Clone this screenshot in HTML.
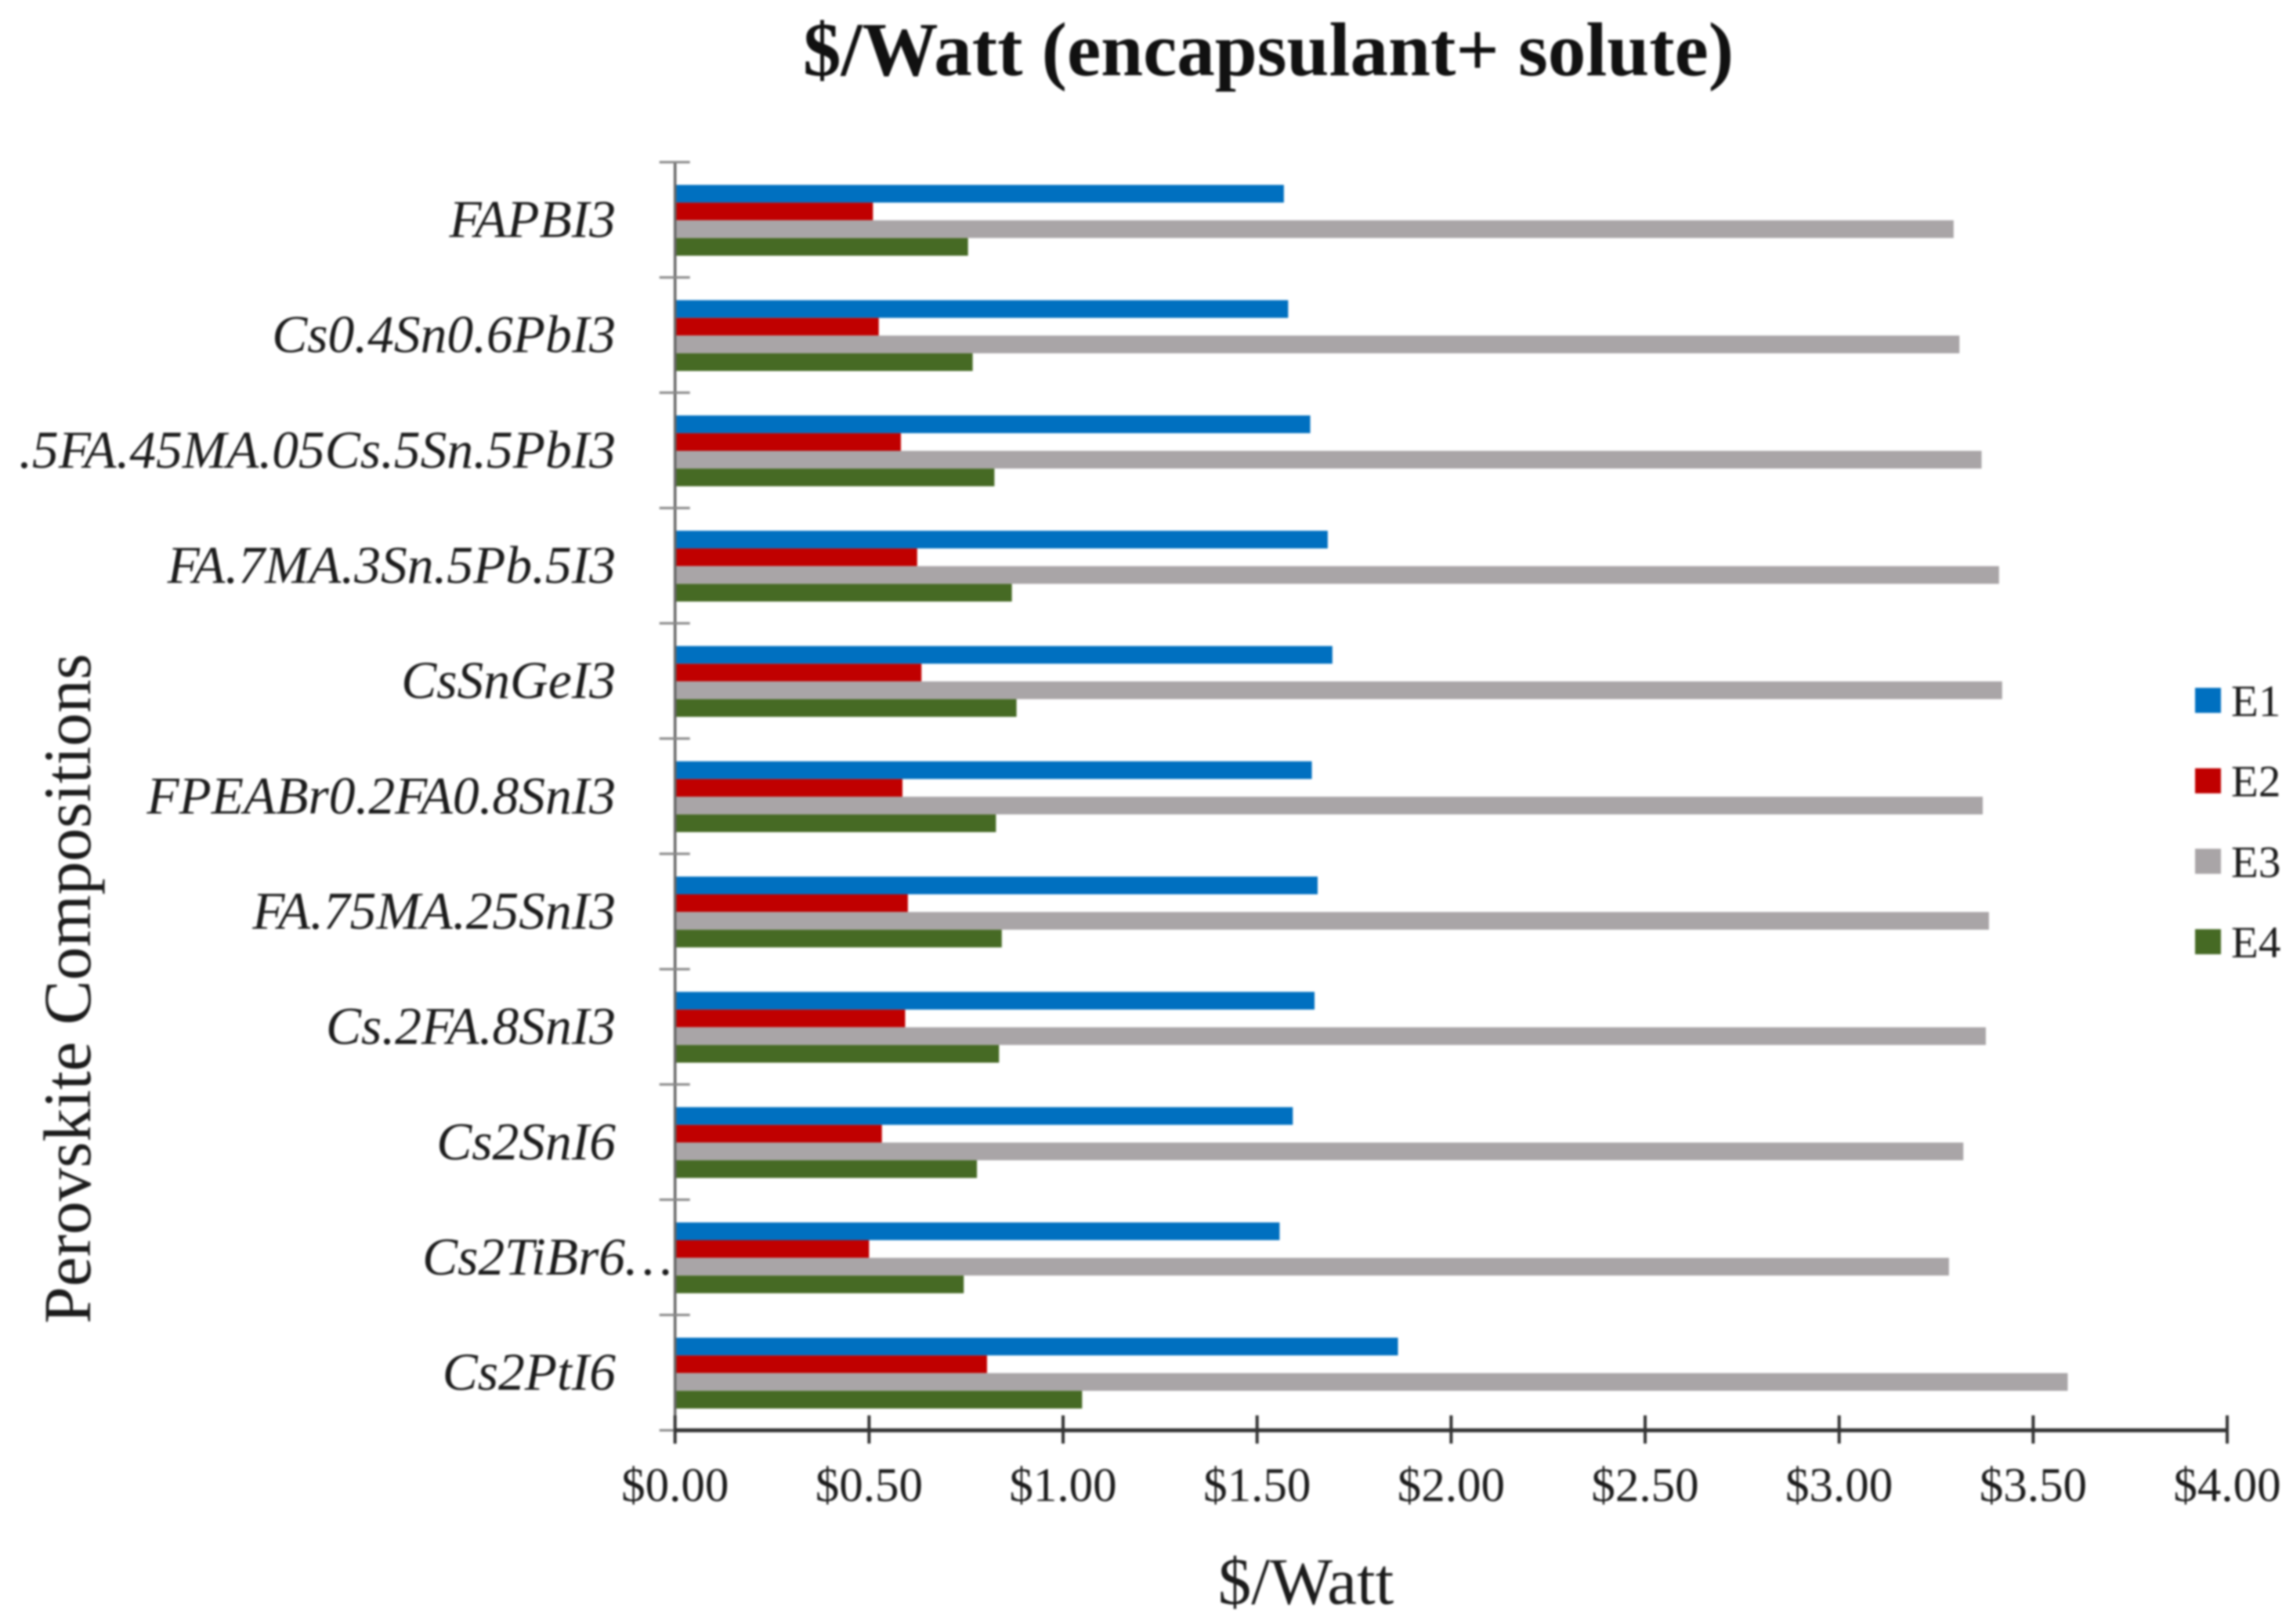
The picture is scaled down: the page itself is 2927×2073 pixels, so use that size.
<!DOCTYPE html>
<html lang="en">
<head>
<meta charset="utf-8">
<title>$/Watt (encapsulant+ solute)</title>
<style>
html,body{margin:0;padding:0;background:#fff;width:2927px;height:2073px;overflow:hidden}
svg{display:block;filter:blur(1.2px)}
text{font-family:"Liberation Serif",serif;fill:#1c1c1c}
</style>
</head>
<body>
<svg id="chart" xmlns="http://www.w3.org/2000/svg" width="2927" height="2073" viewBox="0 0 2927 2073">
<rect x="0" y="0" width="2927" height="2073" fill="#ffffff"/>
<text x="1619" y="96" text-anchor="middle" font-size="97.1" font-weight="bold" style="fill:#111">$/Watt (encapsulant+ solute)</text>
<text x="1667" y="2047" text-anchor="middle" font-size="85">$/Watt</text>
<text transform="translate(115,1262) rotate(-90)" text-anchor="middle" font-size="85.3">Perovskite Compositions</text>
<g id="bars"></g>
<g id="yaxis"></g>
<g id="xaxis"></g>
<g id="legend"></g>
</svg>
<script>
const categories = ["FAPBI3","Cs0.4Sn0.6PbI3",".5FA.45MA.05Cs.5Sn.5PbI3","FA.7MA.3Sn.5Pb.5I3","CsSnGeI3","FPEABr0.2FA0.8SnI3","FA.75MA.25SnI3","Cs.2FA.8SnI3","Cs2SnI6","Cs2TiBr6…","Cs2PtI6"];
const seriesNames = ["E1","E2","E3","E4"];
const e1Values = [1.569,1.58,1.637,1.682,1.694,1.641,1.656,1.648,1.592,1.558,1.863];
const e2Values = [0.51,0.525,0.582,0.624,0.635,0.586,0.60,0.593,0.533,0.50,0.804];
const e3Values = [3.295,3.31,3.367,3.412,3.42,3.37,3.386,3.378,3.32,3.283,3.589];
const e4Values = [0.755,0.767,0.823,0.868,0.88,0.827,0.842,0.835,0.778,0.744,1.049];
const xTickValues = [0,0.5,1,1.5,2,2.5,3,3.5,4];
const xTickLabels = ["$0.00","$0.50","$1.00","$1.50","$2.00","$2.50","$3.00","$3.50","$4.00"];

const NS = "http://www.w3.org/2000/svg";
const allSeries = [e1Values, e2Values, e3Values, e4Values];
const colors = ["#0070c0", "#c00000", "#a9a5a7", "#466a24"];
const plotLeft = 861.7, plotRight = 2843, plotTop = 207, plotBottom = 1825.7;
const xScale = v => plotLeft + (v / xTickValues[xTickValues.length - 1]) * (plotRight - plotLeft);
const bandH = (plotBottom - plotTop) / categories.length;
const bandTop = i => plotTop + i * bandH;
const barH = 22.6, barPad = 29;

function make(tag, attrs, parent) {
  const el = document.createElementNS(NS, tag);
  for (const k in attrs) el.setAttribute(k, attrs[k]);
  parent.appendChild(el);
  return el;
}

const barsG = document.getElementById("bars");
const yG = document.getElementById("yaxis");
const xG = document.getElementById("xaxis");
const legendG = document.getElementById("legend");

allSeries.forEach((vals, s) => {
  vals.forEach((v, i) => {
    const r = make("rect", {x: plotLeft, y: bandTop(i) + barPad + s * barH, width: xScale(v) - plotLeft, height: barH, fill: colors[s]}, barsG);
    
    
  });
});

const yLine = make("line", {x1: plotLeft, x2: plotLeft, y1: plotTop, y2: plotBottom + 17, stroke: "#666", "stroke-width": 3.5}, yG);



for (let i = 0; i <= categories.length; i++) {
  const t = make("line", {x1: plotLeft - 20, x2: plotLeft + 19, y1: bandTop(i), y2: bandTop(i), stroke: "#888", "stroke-width": 3}, yG);
  
  
}

categories.forEach((c, i) => {
  const truncated = c.endsWith("…");
  const t = make("text", {x: truncated ? 858 : 786, y: bandTop(i) + bandH / 2 + 22, "text-anchor": "end", "font-size": 67.5, "font-style": "italic"}, yG);
  t.textContent = c;
  
  
});

const xLine = make("line", {x1: plotLeft, x2: plotRight, y1: plotBottom, y2: plotBottom, stroke: "#333", "stroke-width": 5}, xG);



xTickValues.forEach((v, i) => {
  const t = make("line", {x1: xScale(v), x2: xScale(v), y1: plotBottom - 19, y2: plotBottom + 17, stroke: "#333", "stroke-width": 4}, xG);
  
  
  const l = make("text", {x: xScale(v), y: 1916, "text-anchor": "middle", "font-size": 61}, xG);
  l.textContent = xTickLabels[i];
  
  
});

seriesNames.forEach((n, i) => {
  const y = 878 + i * 102.7;
  const sw = make("rect", {x: 2802, y: y, width: 33, height: 32, fill: colors[i]}, legendG);
  
  
  const t = make("text", {x: 2848, y: y + 36, "font-size": 57}, legendG);
  t.textContent = n;
  
  
});
</script>
</body>
</html>
